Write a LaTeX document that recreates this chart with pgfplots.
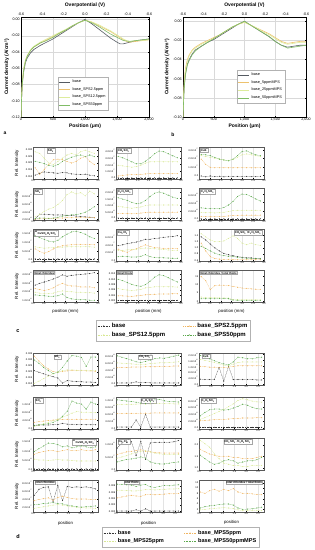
\documentclass[border=0pt]{standalone}
\usepackage{fontspec}
\setmainfont{Liberation Sans}
\usepackage{pgfplots}
\usepackage{pgfplotstable}
\pgfplotsset{compat=1.18}

\definecolor{cB}{HTML}{333333}
\definecolor{cO}{HTML}{F0B560}
\definecolor{cY}{HTML}{D8E894}
\definecolor{cG}{HTML}{5BA84C}
\definecolor{tB}{HTML}{555B62}
\definecolor{tO}{HTML}{EDC26E}
\definecolor{tY}{HTML}{DDEC9C}
\definecolor{tG}{HTML}{80BC66}

\newcommand{\tk}{\fontsize{2.5}{2.8}\selectfont}
\newcommand{\sci}[2]{#1×10\textsuperscript{#2}}
\newcommand{\sbs}[1]{\textsubscript{#1}}
\newcommand{\mi}{\textsuperscript{-}}

\tikzset{ttl/.style={draw=gray!70, fill=white, inner sep=0.5pt, font=\fontsize{2.8}{3}\selectfont\bfseries}}

\pgfplotsset{
  sp/.style={
    scale only axis, width=65pt, height=32pt, anchor=north west,
    xmin=0, xmax=3, xtick={0,0.5,1,1.5,2,2.5,3},
    xticklabels={0.0,0.5,1.0,1.5,2.0,2.5,3.0},
    scaled y ticks=false, scaled x ticks=false,
    xmajorgrids, major grid style={gray!22, line width=0.2pt},
    tick label style={font=\tk, inner sep=0.6pt},
    major tick length=0.8pt, tick style={black, line width=0.2pt},
    axis line style={line width=0.25pt, gray!70!black},
    ylabel style={font=\fontsize{4.5}{5}\selectfont, at={(axis description cs:-0.245,0.5)}, anchor=center},
    xlabel style={font=\fontsize{4.3}{5}\selectfont, at={(axis description cs:0.5,-0.29)}, anchor=center},
    legend image code/.code={\draw[mark repeat=2,mark phase=2,##1] plot coordinates {(0pt,0pt) (6pt,0pt) (12pt,0pt)};},
  },
  spd/.style={sp, xmax=2.75, xtick={0,0.5,1,1.5,2,2.5}, xticklabels={0.0,0.5,1.0,1.5,2.0,2.5},
    xlabel style={at={(axis description cs:0.5,-0.34)}}},
  sb/.style={cB, dash pattern=on 1pt off 0.6pt, line width=0.25pt, mark=*, mark size=0.35pt, mark options={solid}},
  so/.style={cO, dash pattern=on 1pt off 0.6pt, line width=0.25pt, mark=*, mark size=0.35pt, mark options={solid}},
  sy/.style={cY, dash pattern=on 1pt off 0.6pt, line width=0.25pt, mark=*, mark size=0.35pt, mark options={solid}},
  sg/.style={cG, dash pattern=on 1pt off 0.6pt, line width=0.25pt, mark=*, mark size=0.35pt, mark options={solid}},
  tp/.style={
    scale only axis, height=100pt, anchor=north west,
    xmin=0, xmax=2000, xtick={0,500,1000,1500,2000},
    scaled y ticks=false, scaled x ticks=false,
    grid=major, major grid style={gray!30, line width=0.2pt},
    tick label style={font=\fontsize{3.7}{4.2}\selectfont, inner sep=1pt},
    major tick length=1.2pt, tick style={black, line width=0.25pt},
    axis line style={line width=0.3pt},
    /pgf/number format/assume math mode=true,
    yticklabel style={/pgf/number format/.cd, fixed, fixed zerofill, precision=2},
    xlabel={Position (μm)}, ylabel={Current density (A/cm²)},
    label style={font=\fontsize{5}{6}\selectfont\bfseries},
    xlabel style={at={(axis description cs:0.5,-0.09)}, anchor=center},
    legend image code/.code={\draw[##1] (0pt,0pt) -- (11pt,0pt);},
    legend style={font=\fontsize{3.8}{4.4}\selectfont, draw=gray!60, inner sep=0.8pt, row sep=-0.6pt},
    legend cell align=left,
  },
  tpt/.style={
    scale only axis, height=100pt, anchor=north west,
    xmin=0, xmax=2000, ymin=0, ymax=1, axis x line*=top, axis y line=none,
    xtick={0,333.33,666.67,1000,1333.33,1666.67,2000},
    xticklabels={-0.6,-0.4,-0.2,0.0,-0.2,-0.4,-0.6},
    tick label style={font=\fontsize{3.7}{4.2}\selectfont, inner sep=1pt},
    major tick length=1.2pt, tick style={black, line width=0.25pt},
    axis line style={line width=0.3pt},
    xlabel={Overpotential (V)},
    xlabel style={font=\fontsize{5}{6}\selectfont\bfseries, at={(axis description cs:0.5,1.12)}, anchor=center},
  },
}

\newcommand{\Pn}[6]{%
\begin{axis}[#1, at={#2}, #4]
\addplot[sb] table[x=x,y=b]{#3};
\addplot[so] table[x=x,y=o]{#3};
\addplot[sy] table[x=x,y=y]{#3};
\addplot[sg] table[x=x,y=g]{#3};
\node[ttl,#5]{#6};
\end{axis}}
\newcommand{\Pnb}[6]{%
\begin{axis}[#1, at={#2}, #4]
\addplot[so] table[x=x,y=o]{#3};
\addplot[sy] table[x=x,y=y]{#3};
\addplot[sg] table[x=x,y=g]{#3};
\node[ttl,#5]{#6};
\end{axis}}

% ---------------- panel c data ----------------
\pgfplotstableread{
x b o y g
0.10 0.0109 0.0164 0.0284 0.0212
0.31 0.0123 0.0116 0.0272 0.0205
0.52 0.0133 0.0152 0.0236 0.0195
0.73 0.0130 0.0188 0.0200 0.0181
0.94 0.0126 0.0224 0.0188 0.0176
1.15 0.0123 0.0229 0.0212 0.0188
1.36 0.0128 0.0224 0.0236 0.0212
1.57 0.0126 0.0212 0.0260 0.0229
1.78 0.0118 0.0200 0.0272 0.0243
1.99 0.0116 0.0212 0.0260 0.0253
2.20 0.0114 0.0236 0.0284 0.0260
2.41 0.0116 0.0248 0.0296 0.0248
2.62 0.0109 0.0212 0.0284 0.0260
2.83 0.0104 0.0188 0.0272 0.0248
}\tca
\pgfplotstableread{
x b o y g
0.10 0.02 0.30 1.9 3.2
0.31 0.02 0.40 1.8 3.0
0.52 0.02 0.45 1.7 2.7
0.73 0.02 0.50 1.6 2.4
0.94 0.02 0.50 1.7 2.1
1.15 0.02 0.55 1.9 2.1
1.36 0.02 0.60 2.2 2.5
1.57 0.02 0.65 2.4 3.0
1.78 0.02 0.65 2.4 3.6
1.99 0.02 0.65 2.4 4.0
2.20 0.02 0.65 2.4 3.9
2.41 0.02 0.65 2.4 3.6
2.62 0.02 0.65 2.4 3.3
2.83 0.02 0.65 2.4 3.0
}\tcb
\pgfplotstableread{
x b o y g
0.10 -0.05 1.9 2.3 2.45
0.31 -0.15 1.3 2.2 2.4
0.52 -0.05 0.95 2.1 2.3
0.73 -0.12 0.9 2.0 2.1
0.94 -0.08 0.9 1.9 1.9
1.15 -0.15 0.9 1.8 1.8
1.36 -0.10 0.9 1.75 1.7
1.57 -0.12 0.9 1.85 1.9
1.78 -0.10 0.9 2.1 2.3
1.99 -0.14 0.9 2.4 2.8
2.20 -0.10 0.9 2.5 2.85
2.41 -0.12 0.9 2.4 2.6
2.62 -0.12 0.9 2.3 2.4
2.83 -0.10 0.9 2.2 2.3
}\tcc
\pgfplotstableread{
x b o y g
0.10 2.0 2.0 2.6 2.2
0.31 3.3 2.1 3.2 2.3
0.52 3.3 2.1 4.0 2.3
0.73 3.2 2.2 4.6 2.2
0.94 3.1 2.2 5.0 2.3
1.15 3.1 2.3 5.8 2.5
1.36 3.1 2.3 6.8 2.8
1.57 3.0 2.4 8.3 3.0
1.78 3.0 2.4 9.0 3.1
1.99 2.8 2.4 8.5 3.2
2.20 2.7 2.5 8.8 3.4
2.41 2.6 2.4 8.0 3.8
2.62 2.5 2.5 9.2 4.4
2.83 2.4 2.4 8.5 5.2
}\tcd
\pgfplotstableread{
x b o y g
0.10 0 0.35 0.90 1.55
0.31 0 0.35 0.85 1.45
0.52 0 0.35 0.80 1.35
0.73 0 0.33 0.75 1.20
0.94 0 0.35 0.80 1.10
1.15 0 0.38 0.85 1.15
1.36 0 0.42 0.95 1.35
1.57 0 0.45 1.00 1.65
1.78 0 0.45 1.00 1.90
1.99 0 0.45 1.00 2.00
2.20 0 0.45 1.00 1.90
2.41 0 0.45 1.00 1.75
2.62 0 0.45 1.00 1.60
2.83 0 0.45 1.00 1.50
}\tce
\pgfplotstableread{
x b o y g
0.10 0 0.60 1.60 2.7
0.31 0 0.55 1.50 2.6
0.52 0 0.50 1.50 2.5
0.73 0 0.50 1.45 2.5
0.94 0 0.55 1.50 2.5
1.15 0 0.60 1.60 2.8
1.36 0 0.70 1.80 3.4
1.57 0 0.80 2.00 4.3
1.78 0 0.85 2.10 5.5
1.99 0 0.90 2.10 6.1
2.20 0 0.90 2.10 6.0
2.41 0 0.90 2.10 5.5
2.62 0 0.90 2.10 4.9
2.83 0 0.90 2.10 4.4
}\tcf
\pgfplotstableread{
x b o y g
0.10 0.02 0.60 0.72 1.35
0.31 0.02 0.45 0.68 1.25
0.52 0.02 0.35 0.64 1.15
0.73 0.02 0.45 0.66 1.05
0.94 0.02 0.60 0.67 1.00
1.15 0.02 0.72 0.70 1.10
1.36 0.02 0.78 0.70 1.30
1.57 0.02 0.82 0.72 1.45
1.78 0.02 0.84 0.72 1.58
1.99 0.02 0.85 0.73 1.62
2.20 0.02 0.86 0.72 1.55
2.41 0.02 0.85 0.73 1.45
2.62 0.02 0.85 0.72 1.30
2.83 0.02 0.84 0.70 1.20
}\tcg
\pgfplotstableread{
x b o y g
0.10 3.7 2.8 2.5 0.9
0.31 3.9 2.3 2.5 1.0
0.52 4.2 2.0 2.6 0.9
0.73 4.4 2.6 2.7 0.8
0.94 4.6 2.9 2.8 0.8
1.15 4.9 3.4 2.9 1.0
1.36 5.3 3.9 3.1 1.4
1.57 5.3 3.5 3.0 0.9
1.78 5.5 3.2 2.9 0.7
1.99 5.6 3.1 2.8 0.6
2.20 5.8 3.0 2.7 0.6
2.41 5.9 3.0 2.6 0.55
2.62 6.0 3.0 2.5 0.5
2.83 6.2 2.9 2.5 0.5
}\tch
\pgfplotstableread{
x b o y g
0.10 1.35 1.15 1.45 1.05
0.31 1.25 0.90 1.35 0.98
0.52 1.12 0.72 1.25 0.90
0.73 1.00 0.66 1.20 0.83
0.94 0.90 0.64 1.20 0.78
1.15 0.82 0.63 1.22 0.75
1.36 0.78 0.63 1.30 0.73
1.57 0.75 0.62 1.38 0.72
1.78 0.72 0.62 1.30 0.70
1.99 0.70 0.62 1.15 0.68
2.20 0.68 0.62 1.10 0.67
2.41 0.68 0.62 1.15 0.66
2.62 0.66 0.62 1.10 0.66
2.83 0.65 0.62 1.08 0.65
}\tci
\pgfplotstableread{
x b o y g
0.10 2.70 2.3 1.90 1.60
0.31 2.90 2.2 1.80 1.55
0.52 3.05 2.1 1.75 1.50
0.73 3.20 2.2 1.75 1.45
0.94 3.40 2.4 1.80 1.45
1.15 3.60 2.7 1.95 1.50
1.36 3.85 2.9 2.05 1.70
1.57 3.70 2.7 2.00 1.30
1.78 3.80 2.6 1.95 1.15
1.99 3.85 2.6 1.90 1.10
2.20 3.90 2.5 1.90 1.05
2.41 3.95 2.5 1.85 1.05
2.62 4.00 2.5 1.85 1.00
2.83 4.10 2.4 1.80 1.00
}\tcj
\pgfplotstableread{
x b o y g
0.10 0.0021 0.0038 0.0065 0.0100
0.31 0.0021 0.0038 0.0062 0.0095
0.52 0.0021 0.0037 0.0060 0.0088
0.73 0.0021 0.0036 0.0058 0.0081
0.94 0.0021 0.0038 0.0060 0.0076
1.15 0.0021 0.0040 0.0062 0.0074
1.36 0.0021 0.0042 0.0068 0.0080
1.57 0.0021 0.0043 0.0070 0.0093
1.78 0.0021 0.0044 0.0072 0.0108
1.99 0.0021 0.0045 0.0072 0.0117
2.20 0.0021 0.0045 0.0072 0.0114
2.41 0.0021 0.0045 0.0072 0.0106
2.62 0.0021 0.0046 0.0072 0.0098
2.83 0.0021 0.0046 0.0071 0.0090
}\tck
\pgfplotstableread{
x o y g
0.10 15.0 2.5 1.5
0.31 12.5 2.3 1.5
0.52 7.0 2.2 1.5
0.73 9.5 2.1 1.5
0.94 9.8 2.0 1.6
1.15 9.7 2.0 1.6
1.36 9.5 1.9 1.5
1.57 9.0 1.0 0.7
1.78 8.5 0.9 0.6
1.99 8.0 0.8 0.5
2.20 7.8 0.8 0.5
2.41 7.5 0.8 0.5
2.62 7.3 0.8 0.5
2.83 7.2 0.8 0.5
}\tcl
% ---------------- panel d data ----------------
\pgfplotstableread{
x b o y g
0.05 0.0209 0.0329 0.0103 0.0297
0.25 0.0196 0.0289 0.0122 0.0270
0.45 0.0183 0.0249 0.0143 0.0236
0.65 0.0170 0.0223 0.0164 0.0209
0.85 0.0159 0.0201 0.0183 0.0185
1.05 0.0148 0.0196 0.0196 0.0196
1.25 0.0106 0.0201 0.0209 0.0236
1.45 0.0127 0.0207 0.0215 0.0289
1.65 0.0122 0.0209 0.0215 0.0334
1.85 0.0119 0.0209 0.0212 0.0329
2.05 0.0117 0.0209 0.0212 0.0318
2.25 0.0114 0.0207 0.0212 0.0244
2.45 0.0114 0.0207 0.0209 0.0321
2.65 0.0111 0.0204 0.0209 0.0321
}\tda
\pgfplotstableread{
x b o y g
0.05 0.3 4.6 6.0 8.0
0.25 0.3 4.7 5.9 7.6
0.45 0.3 4.7 5.8 7.2
0.65 0.3 4.8 5.7 6.8
0.85 0.6 4.8 5.6 6.3
1.05 0.3 4.8 5.5 6.1
1.25 0.4 4.9 5.6 6.4
1.45 0.3 4.9 5.8 6.8
1.65 0.3 4.9 5.9 7.2
1.85 0.3 5.0 6.0 7.4
2.05 0.3 5.0 6.0 7.3
2.25 0.3 5.0 6.1 7.6
2.45 0.3 5.1 6.2 7.9
2.65 0.3 5.1 6.3 8.2
}\tdb
\pgfplotstableread{
x b o y g
0.05 0.34 1.20 1.67 1.93
0.25 0.32 1.18 1.61 1.84
0.45 0.32 1.15 1.54 1.71
0.65 0.32 1.15 1.46 1.58
0.85 1.13 1.13 1.37 1.46
1.05 0.21 1.13 1.28 1.37
1.25 1.20 1.15 1.24 1.30
1.45 0.32 1.20 1.35 1.50
1.65 0.32 1.24 1.46 1.82
1.85 0.32 1.24 1.50 1.78
2.05 0.32 1.24 1.50 1.71
2.25 0.32 1.24 1.50 1.71
2.45 0.29 1.24 1.50 1.78
2.65 0.29 1.24 1.50 1.82
}\tdc
\pgfplotstableread{
x b o y g
0.05 1.5 3.0 1.0 1.5
0.25 1.6 3.3 1.6 1.8
0.45 1.7 3.6 2.3 2.0
0.65 1.7 3.9 3.0 2.3
0.85 1.8 4.1 3.8 3.0
1.05 1.9 4.3 4.6 4.0
1.25 2.5 4.4 5.5 6.0
1.45 2.1 4.5 6.5 8.5
1.65 2.0 4.5 7.5 13.5
1.85 1.9 4.5 8.3 12.5
2.05 1.9 4.5 8.0 12.0
2.25 1.8 4.5 8.0 9.5
2.45 1.8 4.5 7.9 13.0
2.65 1.8 4.5 7.8 12.0
}\tdd
\pgfplotstableread{
x b o y g
0.05 0.5 6.2 10.0 12.0
0.25 0.5 6.2 10.0 11.8
0.45 0.5 6.3 10.1 11.5
0.65 0.5 6.3 10.1 11.3
0.85 3.5 6.3 10.2 11.0
1.05 0.5 6.4 10.3 10.6
1.25 6.0 6.4 10.2 10.5
1.45 0.5 6.4 10.3 11.2
1.65 0.5 6.5 10.4 12.0
1.85 0.5 6.5 10.5 12.2
2.05 0.5 6.5 10.4 11.6
2.25 0.5 6.5 10.4 11.3
2.45 0.5 6.5 10.3 11.2
2.65 0.5 6.5 10.3 11.1
}\tde
\pgfplotstableread{
x b o y g
0.05 0.2 2.1 2.5 3.5
0.25 0.2 2.2 3.0 4.5
0.45 0.2 2.3 3.6 5.3
0.65 0.2 2.4 4.2 5.5
0.85 0.2 2.5 4.8 5.5
1.05 0.2 2.5 5.4 5.2
1.25 0.2 2.6 6.2 5.3
1.45 0.2 2.7 7.0 5.8
1.65 0.2 2.8 8.0 6.3
1.85 0.2 2.9 8.5 6.9
2.05 0.2 2.9 8.2 6.6
2.25 0.2 2.9 7.8 6.0
2.45 0.2 3.0 7.6 5.6
2.65 0.2 3.0 7.5 5.5
}\tdf
\pgfplotstableread{
x b o y g
0.05 0.03 0.80 0.55 0.95
0.25 0.03 0.90 0.50 1.10
0.45 0.03 0.95 0.50 1.25
0.65 0.03 1.00 0.48 1.40
0.85 0.03 1.00 0.50 1.38
1.05 0.03 0.95 0.52 1.32
1.25 0.03 1.00 0.50 1.20
1.45 0.03 1.05 0.50 1.25
1.65 0.03 1.00 0.48 1.15
1.85 0.03 1.00 0.45 1.20
2.05 0.03 1.05 0.45 1.25
2.25 0.03 1.00 0.45 1.20
2.45 0.03 1.00 0.45 1.15
2.65 0.03 1.05 0.45 1.20
}\tdg
\pgfplotstableread{
x b o y g
0.05 0.85 0.60 0.45 0.30
0.25 1.05 0.65 0.50 0.35
0.45 1.08 0.70 0.55 0.40
0.65 1.10 0.72 0.62 0.42
0.85 0.55 0.75 0.68 0.45
1.05 1.12 0.78 0.72 0.50
1.25 0.40 0.72 0.75 0.45
1.45 1.05 0.70 0.70 0.30
1.65 1.08 0.68 0.65 0.25
1.85 1.08 0.66 0.62 0.22
2.05 1.08 0.65 0.60 0.22
2.25 1.08 0.65 0.60 0.25
2.45 1.10 0.65 0.60 0.28
2.65 1.15 0.65 0.60 0.30
}\tdh
\pgfplotstableread{
x o y g
0.05 1.80 2.20 1.55
0.25 1.70 2.05 1.40
0.45 1.60 1.90 1.25
0.65 1.55 1.60 1.15
0.85 1.50 1.40 1.20
1.05 1.50 1.20 1.30
1.25 1.50 1.15 1.35
1.45 1.45 1.10 1.30
1.65 1.45 1.10 1.20
1.85 1.40 1.05 1.25
2.05 1.40 1.05 1.30
2.25 1.40 1.10 1.30
2.45 1.45 1.10 1.35
2.65 1.50 1.10 1.45
}\tdi
\pgfplotstableread{
x b o y g
0.05 4.8 3.5 1.6 2.5
0.25 6.3 3.8 1.8 2.6
0.45 6.8 4.0 2.0 2.8
0.65 6.9 4.2 2.2 2.9
0.85 3.2 3.6 2.4 3.0
1.05 7.3 4.3 2.5 2.8
1.25 3.5 4.6 2.4 2.7
1.45 7.0 4.3 2.2 2.4
1.65 6.8 4.0 2.0 2.2
1.85 6.9 3.9 1.9 2.0
2.05 6.8 3.9 1.8 1.9
2.25 6.9 3.9 1.7 2.0
2.45 6.7 3.8 1.7 2.1
2.65 6.4 3.8 1.6 2.2
}\tdj
\pgfplotstableread{
x b o y g
0.05 0.0001 0.0042 0.0066 0.0085
0.25 0.0001 0.0045 0.0066 0.0084
0.45 0.0001 0.0048 0.0065 0.0083
0.65 0.0001 0.0050 0.0064 0.0082
0.85 0.0005 0.0048 0.0064 0.0078
1.05 0.0001 0.0047 0.0066 0.0082
1.25 0.0008 0.0052 0.0068 0.0084
1.45 0.0001 0.0053 0.0068 0.0077
1.65 0.0001 0.0052 0.0067 0.0075
1.85 0.0001 0.0053 0.0068 0.0078
2.05 0.0001 0.0054 0.0069 0.0081
2.25 0.0001 0.0055 0.0070 0.0080
2.45 0.0001 0.0055 0.0070 0.0082
2.65 0.0001 0.0056 0.0071 0.0083
}\tdk
\pgfplotstableread{
x o y g
0.05 8.5 1.8 2.5
0.25 8.0 2.0 3.0
0.45 9.0 2.2 3.3
0.65 9.5 2.4 3.5
0.85 8.8 2.5 3.8
1.05 9.5 2.6 4.0
1.25 9.0 2.5 4.0
1.45 9.8 2.3 3.6
1.65 8.5 1.8 2.5
1.85 8.0 1.5 2.0
2.05 8.0 1.5 2.1
2.25 7.8 1.5 2.2
2.45 7.6 1.5 2.5
2.65 7.5 1.5 2.8
}\tdl

\begin{document}
\begin{tikzpicture}
\path[use as bounding box] (0pt,0pt) rectangle (314pt,-550pt);

% ================= top-left (a) =================
\begin{axis}[tp, at={(21pt,-17pt)}, width=128pt, ymin=-0.12, ymax=0.003,
  ytick={-0.12,-0.10,-0.08,-0.06,-0.04,-0.02,0},
  ylabel style={at={(axis description cs:-0.11,0.5)}, anchor=center},
  legend style={at={(0.29,0.07)}, anchor=south west}]
\addplot[tB, line width=0.6pt] coordinates {(0,-0.12)(8,-0.10)(20,-0.08)(40,-0.065)(70,-0.053)(100,-0.047)(150,-0.041)(200,-0.037)(300,-0.032)(400,-0.028)(500,-0.024)(600,-0.019)(700,-0.014)(800,-0.009)(900,-0.004)(1000,0.000)(1100,-0.005)(1200,-0.011)(1300,-0.017)(1400,-0.023)(1500,-0.028)(1550,-0.030)(1600,-0.030)(1700,-0.028)(1800,-0.026)(1900,-0.025)(2000,-0.024)};
\addplot[tO, line width=0.6pt] coordinates {(0,-0.12)(8,-0.098)(20,-0.078)(40,-0.062)(70,-0.050)(100,-0.044)(150,-0.038)(200,-0.034)(300,-0.029)(400,-0.025)(500,-0.021)(600,-0.017)(700,-0.013)(800,-0.008)(900,-0.004)(1000,-0.001)(1100,-0.003)(1200,-0.007)(1300,-0.011)(1400,-0.015)(1500,-0.020)(1600,-0.025)(1650,-0.027)(1700,-0.028)(1800,-0.027)(1900,-0.026)(2000,-0.025)};
\addplot[tY, line width=0.6pt] coordinates {(0,-0.12)(8,-0.097)(20,-0.077)(40,-0.061)(70,-0.050)(100,-0.044)(150,-0.037)(200,-0.033)(300,-0.028)(400,-0.024)(500,-0.020)(600,-0.016)(700,-0.012)(800,-0.008)(900,-0.004)(1000,-0.001)(1100,-0.003)(1200,-0.006)(1300,-0.010)(1400,-0.014)(1500,-0.019)(1600,-0.024)(1650,-0.026)(1700,-0.027)(1800,-0.026)(1900,-0.026)(2000,-0.025)};
\addplot[tG, line width=0.6pt] coordinates {(0,-0.12)(8,-0.099)(20,-0.079)(40,-0.063)(70,-0.051)(100,-0.045)(150,-0.038)(200,-0.034)(300,-0.029)(400,-0.026)(500,-0.022)(600,-0.017)(700,-0.013)(800,-0.008)(900,-0.004)(1000,-0.001)(1100,-0.004)(1200,-0.008)(1300,-0.013)(1400,-0.018)(1500,-0.022)(1600,-0.026)(1700,-0.027)(1800,-0.026)(1900,-0.025)(2000,-0.024)};
\legend{base,base\_SPS2.5ppm,base\_SPS12.5ppm,base\_SPS50ppm}
\end{axis}
\begin{axis}[tpt, at={(21pt,-17pt)}, width=128pt]
\addplot[draw=none] coordinates {(0,0)};
\end{axis}
\node[font=\fontsize{5}{6}\selectfont\bfseries] at (5pt,-133pt) {a};

% ================= top-right (b) =================
\begin{axis}[tp, at={(183pt,-17pt)}, width=123pt, ymin=-0.10, ymax=0.0045,
  ytick={-0.10,-0.08,-0.06,-0.04,-0.02,0},
  ylabel style={at={(axis description cs:-0.13,0.5)}, anchor=center},
  legend style={at={(0.44,0.14)}, anchor=south west}]
\addplot[tB, line width=0.6pt] coordinates {(0,-0.10)(8,-0.085)(20,-0.068)(40,-0.055)(70,-0.045)(100,-0.040)(150,-0.034)(200,-0.030)(300,-0.026)(400,-0.022)(500,-0.019)(600,-0.015)(700,-0.011)(800,-0.007)(900,-0.003)(1000,0.000)(1100,-0.004)(1200,-0.008)(1300,-0.012)(1400,-0.016)(1500,-0.021)(1600,-0.025)(1700,-0.027)(1800,-0.026)(1900,-0.025)(2000,-0.025)};
\addplot[tO, line width=0.6pt] coordinates {(0,-0.10)(8,-0.080)(20,-0.062)(40,-0.049)(70,-0.040)(100,-0.035)(150,-0.030)(200,-0.027)(300,-0.023)(400,-0.020)(500,-0.017)(600,-0.014)(700,-0.010)(800,-0.006)(900,-0.003)(1000,-0.001)(1100,-0.004)(1200,-0.007)(1300,-0.010)(1400,-0.013)(1500,-0.017)(1600,-0.021)(1700,-0.023)(1800,-0.022)(1900,-0.021)(2000,-0.021)};
\addplot[tY, line width=0.6pt] coordinates {(0,-0.10)(8,-0.082)(20,-0.064)(40,-0.051)(70,-0.042)(100,-0.036)(150,-0.031)(200,-0.028)(300,-0.024)(400,-0.021)(500,-0.018)(600,-0.014)(700,-0.010)(800,-0.006)(900,-0.003)(1000,-0.001)(1100,-0.004)(1200,-0.007)(1300,-0.011)(1400,-0.014)(1500,-0.018)(1600,-0.022)(1700,-0.024)(1800,-0.023)(1900,-0.022)(2000,-0.022)};
\addplot[tG, line width=0.6pt] coordinates {(0,-0.10)(8,-0.086)(20,-0.069)(40,-0.056)(70,-0.046)(100,-0.041)(150,-0.035)(200,-0.031)(300,-0.026)(400,-0.022)(500,-0.018)(600,-0.014)(700,-0.010)(800,-0.006)(900,-0.003)(1000,0.000)(1100,-0.004)(1200,-0.008)(1300,-0.012)(1400,-0.016)(1500,-0.021)(1600,-0.025)(1700,-0.028)(1800,-0.027)(1900,-0.026)(2000,-0.025)};
\legend{base,base\_5ppmMPS,base\_25ppmMPS,base\_50ppmMPS}
\end{axis}
\begin{axis}[tpt, at={(183pt,-17pt)}, width=123pt]
\addplot[draw=none] coordinates {(0,0)};
\end{axis}
\node[font=\fontsize{5}{6}\selectfont\bfseries] at (173pt,-135pt) {b};

% ================= panel c =================
\Pn{sp}{(33pt,-147pt)}{\tca}{ymin=0.008, ymax=0.032, ytick={0.010,0.015,0.020,0.025,0.030},
  yticklabels={0.010,0.015,0.020,0.025,0.030}, ylabel={Rel. Intensity}}
  {at={(rel axis cs:0.22,0.96)}, anchor=north west}{SO\sbs{3}\mi}
\Pn{sp}{(116pt,-147pt)}{\tcb}{ymin=-0.15, ymax=4.6, ytick={0,1,2,3,4},
  yticklabels={0.0,\sci{1.0}{-7},\sci{2.0}{-7},\sci{3.0}{-7},\sci{4.0}{-7}}}
  {at={(rel axis cs:0.02,0.96)}, anchor=north west}{CH\sbs{3}SO\sbs{3}\mi}
\Pn{sp}{(199pt,-147pt)}{\tcc}{ymin=-0.4, ymax=3.3, ytick={0,1,2,3},
  yticklabels={0.0,\sci{1.0}{-7},\sci{2.0}{-7},\sci{3.0}{-7}}}
  {at={(rel axis cs:0.02,0.96)}, anchor=north west}{CuS\mi}

\Pn{sp}{(33pt,-188pt)}{\tcd}{ymin=1.8, ymax=10, ytick={2,4,6,8},
  yticklabels={\sci{2.0}{-8},\sci{4.0}{-8},\sci{6.0}{-8},\sci{8.0}{-8}}, ylabel={Rel. Intensity}}
  {at={(rel axis cs:0.02,0.96)}, anchor=north west}{SO\sbs{4}\mi}
\Pn{sp}{(116pt,-188pt)}{\tce}{ymin=-0.15, ymax=2.3, ytick={0,0.5,1,1.5,2},
  yticklabels={0.0,\sci{5.0}{-8},\sci{1.0}{-7},\sci{1.5}{-7},\sci{2.0}{-7}}}
  {at={(rel axis cs:0.02,0.96)}, anchor=north west}{C\sbs{2}H\sbs{3}SO\sbs{3}\mi}
\Pn{sp}{(199pt,-188pt)}{\tcf}{ymin=-0.3, ymax=7.6, ytick={0,2,4,6},
  yticklabels={0.0,\sci{2.0}{-8},\sci{4.0}{-8},\sci{6.0}{-8}}}
  {at={(rel axis cs:0.02,0.96)}, anchor=north west}{C\sbs{3}H\sbs{5}SO\sbs{3}\mi}

\Pn{sp}{(33pt,-229pt)}{\tcg}{ymin=-0.1, ymax=1.75, ytick={0,0.5,1,1.5},
  yticklabels={0.0,\sci{5.0}{-8},\sci{1.0}{-7},\sci{1.5}{-7}}, ylabel={Rel. Intensity}}
  {at={(rel axis cs:0.02,0.96)}, anchor=north west}{\textsuperscript{65}CuSO\sbs{4}H\sbs{2}SO\sbs{4}\mi}
\Pn{sp}{(116pt,-229pt)}{\tch}{ymin=-0.2, ymax=7.9, ytick={0,2,4,6},
  yticklabels={0.0,\sci{2.0}{-7},\sci{4.0}{-7},\sci{6.0}{-7}}}
  {at={(rel axis cs:0.02,0.96)}, anchor=north west}{Cu\sbs{2}Cl\sbs{3}\mi}
\Pn{sp}{(199pt,-229pt)}{\tci}{ymin=0.58, ymax=1.6, ytick={0.6,0.8,1.0,1.2,1.4},
  yticklabels={0.6,0.8,1.0,1.2,1.4}}
  {at={(rel axis cs:0.98,0.96)}, anchor=north east}{CH\sbs{3}SO\sbs{3}\mi/C\sbs{3}H\sbs{5}SO\sbs{3}\mi}

\Pn{sp}{(33pt,-270pt)}{\tcj}{ymin=0.8, ymax=4.4, ytick={1,2,3,4},
  yticklabels={\sci{1.0}{-6},\sci{2.0}{-6},\sci{3.0}{-6},\sci{4.0}{-6}}, ylabel={Rel. Intensity}, xlabel={position (mm)}}
  {at={(rel axis cs:0.02,0.96)}, anchor=north west}{total chlorides}
\Pn{sp}{(116pt,-270pt)}{\tck}{ymin=0.0015, ymax=0.0135, ytick={0.002,0.004,0.006,0.008,0.010,0.012},
  yticklabels={0.002,0.004,0.006,0.008,0.010,0.012}, xlabel={position (mm)},
  legend entries={base,base\_SPS2.5ppm,base\_SPS12.5ppm,base\_SPS50ppm},
  legend columns=2,
  legend style={at={(axis description cs:0.885,-0.56)}, anchor=north, draw=gray!60,
    font=\fontsize{6}{7}\selectfont\bfseries, inner sep=1pt, row sep=-1pt,
    /tikz/every even column/.append style={column sep=16pt}},
  legend cell align=left}
  {at={(rel axis cs:0.02,0.96)}, anchor=north west}{total thiols}
\Pnb{sp}{(199pt,-270pt)}{\tcl}{ymin=-0.5, ymax=19, ytick={0,5,10,15},
  yticklabels={0,5,10,15}, xlabel={position (mm)}}
  {at={(rel axis cs:0.02,0.96)}, anchor=north west}{total chlorides / total thiols}
\node[font=\fontsize{5.5}{6}\selectfont\bfseries] at (18pt,-331pt) {c};

% ================= panel d =================
\Pn{spd}{(33pt,-353pt)}{\tda}{ymin=0.009, ymax=0.0355, ytick={0.010,0.015,0.020,0.025,0.030,0.035},
  yticklabels={0.010,0.015,0.020,0.025,0.030,0.035}, ylabel={Rel. Intensity}}
  {at={(rel axis cs:0.38,0.95)}, anchor=north}{SO\sbs{3}\mi}
\Pn{spd}{(116pt,-353pt)}{\tdb}{ymin=-0.3, ymax=8.8, ytick={0,2,4,6,8},
  yticklabels={0.0,\sci{2.0}{-8},\sci{4.0}{-8},\sci{6.0}{-8},\sci{8.0}{-8}}}
  {at={(rel axis cs:0.45,0.95)}, anchor=north}{CH\sbs{3}SO\sbs{3}\mi}
\Pn{spd}{(199pt,-353pt)}{\tdc}{ymin=-0.05, ymax=2.1, ytick={0,0.4,0.8,1.2,1.6,2.0},
  yticklabels={0.0,\sci{4.0}{-7},\sci{8.0}{-7},\sci{1.2}{-6},\sci{1.6}{-6},\sci{2.0}{-6}}}
  {at={(rel axis cs:0.05,0.96)}, anchor=north west}{CuS\mi}

\Pn{spd}{(33pt,-397pt)}{\tdd}{ymin=-0.3, ymax=15.5, ytick={0,4,8,12},
  yticklabels={0.0,\sci{4.0}{-8},\sci{8.0}{-8},\sci{1.2}{-7}}, ylabel={Rel. Intensity}}
  {at={(rel axis cs:0.03,0.96)}, anchor=north west}{SO\sbs{4}\mi}
\Pn{spd}{(116pt,-397pt)}{\tde}{ymin=-0.3, ymax=13.2, ytick={0,3,6,9,12},
  yticklabels={0.0,\sci{3.0}{-8},\sci{6.0}{-8},\sci{9.0}{-8},\sci{1.2}{-7}}}
  {at={(rel axis cs:0.5,0.96)}, anchor=north}{C\sbs{2}H\sbs{3}SO\sbs{3}\mi}
\Pn{spd}{(199pt,-397pt)}{\tdf}{ymin=-0.3, ymax=9, ytick={0,2,4,6,8},
  yticklabels={0.0,\sci{2.0}{-8},\sci{4.0}{-8},\sci{6.0}{-8},\sci{8.0}{-8}}}
  {at={(rel axis cs:0.03,0.96)}, anchor=north west}{C\sbs{3}H\sbs{5}SO\sbs{3}\mi}

\Pn{spd}{(33pt,-438pt)}{\tdg}{ymin=-0.03, ymax=1.67, ytick={0,0.5,1,1.5},
  yticklabels={0.0,\sci{5.0}{-8},\sci{1.0}{-7},\sci{1.5}{-7}}, ylabel={Rel. Intensity}}
  {at={(rel axis cs:0.97,0.96)}, anchor=north east}{\textsuperscript{65}CuSO\sbs{4}H\sbs{2}SO\sbs{4}\mi}
\Pn{spd}{(116pt,-438pt)}{\tdh}{ymin=-0.02, ymax=1.25, ytick={0,0.5,1},
  yticklabels={0.0,\sci{5.0}{-7},\sci{1.0}{-6}}}
  {at={(rel axis cs:0.03,0.96)}, anchor=north west}{Cu\sbs{2}Cl\sbs{3}\mi}
\Pnb{spd}{(199pt,-438pt)}{\tdi}{ymin=0.9, ymax=2.3, ytick={1,1.5,2},
  yticklabels={1.0,1.5,2.0}}
  {at={(rel axis cs:0.6,0.96)}, anchor=north}{CH\sbs{3}SO\sbs{3}\mi/C\sbs{3}H\sbs{5}SO\sbs{3}\mi}

\Pn{spd}{(33pt,-480pt)}{\tdj}{ymin=0.7, ymax=8.6, ytick={2,4,6,8},
  yticklabels={\sci{2.0}{-7},\sci{4.0}{-7},\sci{6.0}{-7},\sci{8.0}{-7}}, ylabel={Rel. Intensity}, xlabel={position}}
  {at={(rel axis cs:0.03,0.97)}, anchor=north west}{total chlorides}
\Pn{spd}{(116pt,-480pt)}{\tdk}{ymin=-0.0002, ymax=0.0098, ytick={0,0.002,0.004,0.006,0.008},
  yticklabels={0.000,0.002,0.004,0.006,0.008}, xlabel={position},
  legend entries={base,base\_MPS5ppm,base\_MPS25ppm,base\_MPS50ppmMPS},
  legend columns=2,
  legend style={at={(axis description cs:1.0,-0.47)}, anchor=north, draw=gray!60,
    font=\fontsize{5.6}{6.5}\selectfont\bfseries, inner sep=1pt, row sep=-1pt,
    /tikz/every even column/.append style={column sep=18pt}},
  legend cell align=left}
  {at={(rel axis cs:0.12,0.97)}, anchor=north west}{total thiols}
\Pnb{spd}{(199pt,-480pt)}{\tdl}{ymin=1, ymax=13, ytick={2,4,6,8,10,12},
  yticklabels={2,4,6,8,10,12}, xlabel={position}}
  {at={(rel axis cs:0.98,0.97)}, anchor=north east}{total chlorides / total thiols}
\node[font=\fontsize{5.5}{6}\selectfont\bfseries] at (18pt,-537pt) {d};
\end{tikzpicture}
\end{document}
